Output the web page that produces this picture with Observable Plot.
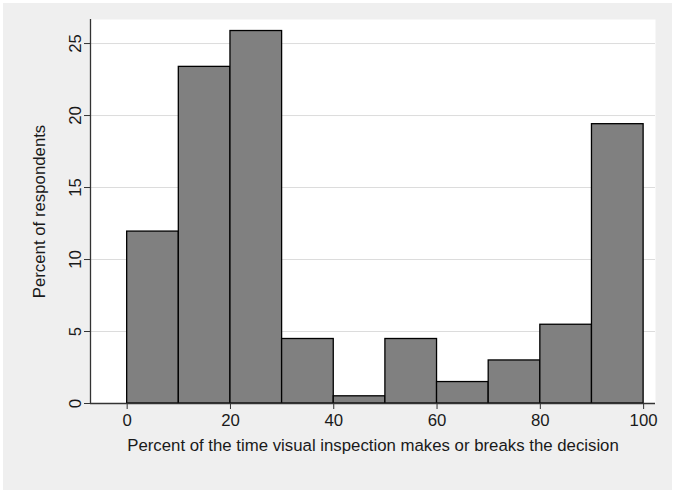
<!DOCTYPE html>
<html>
<head>
<meta charset="utf-8">
<script src="https://cdn.jsdelivr.net/npm/d3@7"></script>
<script src="https://cdn.jsdelivr.net/npm/@observablehq/plot@0.6"></script>
<style>
  html, body { margin: 0; padding: 0; background: #ffffff; }
  #wrap { position: relative; width: 675px; height: 493px; }
  #bg { position: absolute; left: 3px; top: 3px; width: 669px; height: 487px; background: #efefef; }
  #chart { position: absolute; left: 0; top: 0; }
</style>
</head>
<body>
<div id="wrap"><div id="bg"></div><div id="chart"></div></div>
<script>
const binStart = [0, 10, 20, 30, 40, 50, 60, 70, 80, 90];
const binEnd   = [10, 20, 30, 40, 50, 60, 70, 80, 90, 100];
const percent  = [11.94, 23.38, 25.87, 4.48, 0.50, 4.48, 1.49, 2.99, 5.47, 19.40];
const xTicks = [0, 20, 40, 60, 80, 100];
const yTicks = [0, 5, 10, 15, 20, 25];
const xTitle = "Percent of the time visual inspection makes or breaks the decision";
const yTitle = "Percent of respondents";

const bins = binStart.map((s, i) => ({start: s, end: binEnd[i], pct: percent[i]}));
const xDomain = [-7.1, 102.3];
const FS = 16.8;

const chart = Plot.plot({
  width: 675,
  height: 493,
  marginLeft: 90,
  marginRight: 20,
  marginTop: 19,
  marginBottom: 90,
  style: {background: "transparent", fontFamily: "'Liberation Sans', Arial, sans-serif", fontSize: FS + "px", color: "#1a1a1a"},
  x: {domain: xDomain},
  y: {domain: [0, 26.67]},
  marks: [
    Plot.frame({fill: "white", stroke: "none"}),
    Plot.ruleY(yTicks.filter(t => t > 0), {stroke: "#dcdcdc", strokeWidth: 1}),
    Plot.rectY(bins, {x1: "start", x2: "end", y: "pct", fill: "#808080", stroke: "#000", strokeWidth: 1.3}),
    Plot.ruleY([0], {stroke: "#333", strokeWidth: 1.3}),
    Plot.ruleX([xDomain[0]], {stroke: "#333", strokeWidth: 1.3}),
    Plot.axisX({ticks: xTicks, tickSize: 6, tickPadding: 5, label: null, fontSize: FS, stroke: "#333", fill: "#1a1a1a"}),
    Plot.axisY({ticks: yTicks, tickSize: 6, tickPadding: 4, tickRotate: -90, label: null, fontSize: FS, stroke: "#333", fill: "#1a1a1a"}),
    Plot.text([yTitle], {text: d => d, frameAnchor: "left", textAnchor: "middle", rotate: -90, dx: -51, fontSize: FS, fill: "#1a1a1a"}),
    Plot.text([xTitle], {text: d => d, frameAnchor: "bottom", textAnchor: "middle", dy: 47, fontSize: FS, fill: "#1a1a1a"})
  ]
});
document.getElementById("chart").appendChild(chart);
</script>
</body>
</html>
